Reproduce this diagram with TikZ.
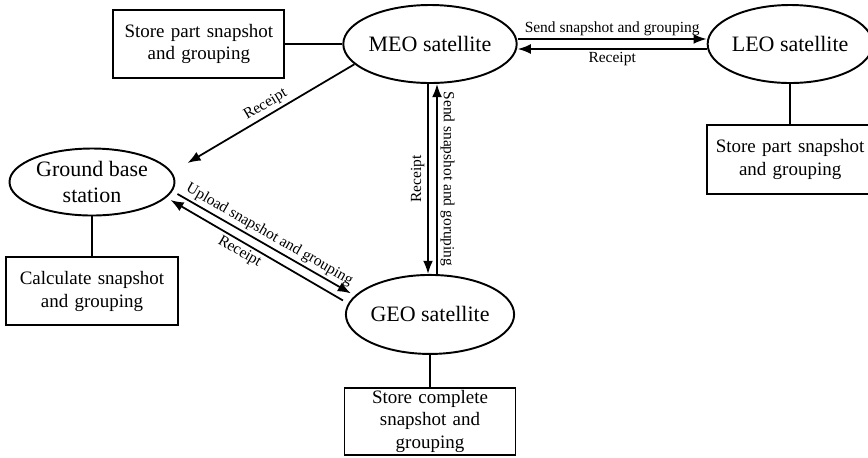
\documentclass[tikz,border=0pt]{standalone}
\usepackage{fontspec}
\setmainfont{Liberation Serif}
\usetikzlibrary{shapes.geometric, arrows.meta, positioning, calc}

\begin{document}
\begin{tikzpicture}[
    sat/.style={ellipse, draw, line width=1.1pt, inner sep=0pt, minimum width=3.3cm, minimum height=1.56cm, align=center, font=\fontsize{12.5}{15.3}\selectfont},
    store/.style={rectangle, draw, line width=1.1pt, text width=3.1cm, inner xsep=0.16cm, inner ysep=0pt, minimum height=1.36cm, align=center, font=\fontsize{10.8}{13}\selectfont},
    link/.style={line width=1pt},
    arrow/.style={-Latex, line width=1pt},
    lbl/.style={font=\fontsize{8.8}{10}\selectfont, inner sep=1.5pt}
]
    \useasboundingbox (0,0) rectangle (17.36,-9.14);

    % Satellites and ground station
    \node[sat] (meo) at (8.6,-0.88) {MEO satellite};
    \node[sat, right=3.78cm of meo] (leo) {LEO satellite};
    \node[sat, below=3.8cm of meo, minimum width=3.36cm, minimum height=1.58cm] (geo) {GEO satellite};
    \node[sat, minimum height=1.34cm] (ground) at (1.84,-3.64) {Ground base\\station};

    % Storage / calculation boxes
    \node[store, left=1.14cm of meo] (meobox) {Store part snapshot\\and grouping};
    \node[store, below=0.8cm of leo, text width=3.02cm, minimum height=1.38cm] (leobox) {Store part snapshot\\and grouping};
    \node[store, below=0.8cm of ground, text width=3.12cm] (groundbox) {Calculate snapshot\\and grouping};
    \node[store, below=0.64cm of geo, minimum height=1.34cm] (geobox) {Store complete\\snapshot and\\grouping};

    % Links to boxes
    \draw[link] (meobox.east) -- (meo.west);
    \draw[link] (leo.south) -- (leobox.north);
    \draw[link] (ground.south) -- (groundbox.north);
    \draw[link] (geo.south) -- (geobox.north);

    % Messages
    \draw[arrow] ([yshift=0.1cm]meo.east) -- node[above, lbl]{Send snapshot and grouping} ([yshift=0.1cm]leo.west);
    \draw[arrow] ([yshift=-0.1cm]leo.west) -- node[below, lbl]{Receipt} ([yshift=-0.1cm]meo.east);
    \draw[arrow] ([xshift=-0.04cm]meo.south) -- node[rotate=90, above, lbl]{Receipt} ([xshift=-0.04cm]geo.north);
    \draw[arrow] ([xshift=0.14cm]geo.north) -- node[rotate=-90, above, lbl]{Send snapshot and goruping} ([xshift=0.14cm]meo.south);
    \draw[arrow] (meo.195) -- node[above, sloped, lbl]{Receipt} ($(ground.east)+(0.24,0.38)$);
    \draw[arrow] ([shift={(0.04,-0.24)}]ground.east) -- node[above, sloped, lbl]{Upload snapshot and grouping} ([shift={(0.12,0.42)}]geo.west);
    \draw[arrow] ([shift={(-0.04,0.28)}]geo.west) -- node[pos=0.57, below, sloped, lbl]{Receipt} ([shift={(-0.1,-0.36)}]ground.east);
\end{tikzpicture}
\end{document}
